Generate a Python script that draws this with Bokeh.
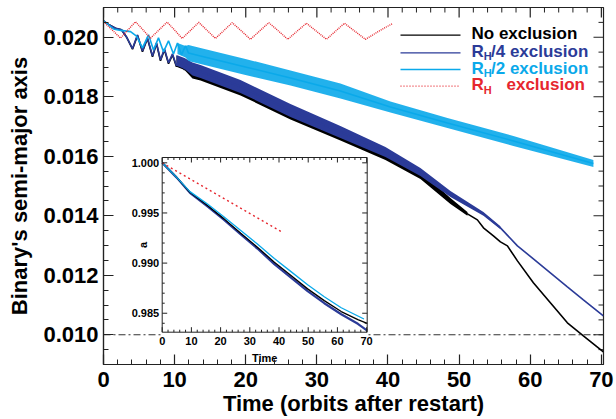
import numpy as np
from bokeh.plotting import figure
from bokeh.models import Range1d, SingleIntervalTicker, NumeralTickFormatter, Span
from bokeh.core.properties import value
from bokeh.embed import file_html
from bokeh.resources import INLINE

FONT = "Liberation Sans"

# ---------------- data ----------------
threshold = 0.010

# No exclusion (black)
noexcl_t = [0, 0.84, 1.69, 2.53, 3.23, 4.08, 4.78, 5.48, 6.18, 6.89, 7.45, 8.01, 8.57, 9.14, 9.70,
            10.26, 10.82, 11.39, 11.95, 12.51, 13.64, 19.26, 26.29, 33.31, 39.64, 44.56, 48.78,
            51.17, 52.57, 53.42, 54.82, 55.81, 56.79, 58.20, 60.44, 62.83, 65.22, 67.47, 70.28]
noexcl_a = [0.02055, 0.02041, 0.02030, 0.02025, 0.02001, 0.01960, 0.02006, 0.01951, 0.01996, 0.01934,
            0.01979, 0.01921, 0.01958, 0.01911, 0.01941, 0.01901, 0.01927, 0.01890, 0.01914,
            0.018834, 0.018767, 0.018263, 0.017457, 0.016734, 0.016045, 0.015373, 0.014499, 0.014063,
            0.013861, 0.013593, 0.013324, 0.013122, 0.012988, 0.012484, 0.011745, 0.011073, 0.010401,
            0.009964, 0.009427]
noexcl_band_t = [10.26, 11.39, 12.51, 13.64, 19.26, 26.29, 33.31, 39.64, 44.56, 48.78, 51.17]
noexcl_band_lo = [0.01901, 0.01890, 0.018616, 0.018549, 0.018045, 0.017239, 0.016532, 0.015877,
                  0.015239, 0.014398, 0.013996]
noexcl_band_hi = [0.01938, 0.01927, 0.019052, 0.018985, 0.018481, 0.017675, 0.016936, 0.016213,
                  0.015507, 0.014600, 0.014130]

# R_H/4 exclusion (navy)
rh4_t = [0, 0.84, 1.69, 2.53, 3.23, 4.08, 4.78, 5.48, 6.18, 6.89, 7.45, 8.01, 8.57, 9.14, 9.70,
         10.26, 10.82, 11.39, 11.95, 12.51, 13.64, 19.26, 26.29, 33.31, 39.64, 44.56, 48.78, 53.42,
         55.81, 58.20, 60.44, 62.83, 65.22, 67.47, 70.28]
rh4_a = [0.02055, 0.02041, 0.02030, 0.02025, 0.02001, 0.01962, 0.02008, 0.01954, 0.01998, 0.01937,
         0.01981, 0.01924, 0.01961, 0.01914, 0.01944, 0.01904, 0.01930, 0.01893, 0.01917,
         0.018935, 0.018851, 0.018347, 0.017540, 0.016818, 0.016146, 0.015474, 0.014735, 0.014063,
         0.013593, 0.012988, 0.012551, 0.012081, 0.011610, 0.011173, 0.010636]
rh4_band_t = [10.26, 11.39, 12.51, 13.64, 19.26, 26.29, 33.31, 39.64, 44.56, 48.78, 53.42, 55.81]
rh4_band_lo = [0.01904, 0.01893, 0.018717, 0.018633, 0.018129, 0.017322, 0.016616, 0.015978,
               0.015340, 0.014634, 0.013996, 0.013543]
rh4_band_hi = [0.01940, 0.01930, 0.019153, 0.019069, 0.018565, 0.017758, 0.017020, 0.016314,
               0.015608, 0.014836, 0.014130, 0.013643]

# R_H/2 exclusion (light blue)
rh2_t = [0, 1.41, 2.39, 3.80, 4.64, 5.48, 6.33, 7.03, 7.73, 8.43, 9.14, 9.84, 10.40, 10.96, 11.53,
         11.95, 13.64, 19.96, 26.29, 33.31, 40.34, 48.36, 57.63, 68.88]
rh2_a = [0.02055, 0.02028, 0.02023, 0.02019, 0.02004, 0.01964, 0.02008, 0.01957, 0.01998, 0.01951,
         0.01988, 0.01944, 0.01981, 0.01941, 0.01971, 0.019472, 0.019372, 0.019002, 0.018632,
         0.018196, 0.017658, 0.017120, 0.016515, 0.015759]
rh2_band_t = [10.40, 11.53, 11.95, 13.64, 19.96, 26.29, 33.31, 40.34, 48.36, 57.63, 68.88]
rh2_band_lo = [0.01944, 0.01932, 0.019203, 0.019103, 0.018733, 0.018380, 0.017944, 0.017473,
               0.016952, 0.016347, 0.015641]
rh2_band_hi = [0.01981, 0.01971, 0.019741, 0.019641, 0.019271, 0.018884, 0.018448, 0.017843,
               0.017288, 0.016683, 0.015877]

# R_H exclusion (red, dotted)
rh_t = [0, 1.2, 2.39, 3.45, 4.50, 5.55, 6.61, 7.78, 8.95, 10.0, 11.06, 12.23, 13.40, 14.57, 15.74,
        16.9, 18.09, 19.4, 20.66, 21.95, 23.24, 24.6, 25.91, 27.2, 28.53, 29.95, 31.35, 32.6,
        33.88, 35.35, 36.83, 38.7, 40.62]
rh_a = [0.02052, 0.02025, 0.01997, 0.02025, 0.02052, 0.02025, 0.01997, 0.02024, 0.02051, 0.02024,
        0.01996, 0.02023, 0.02050, 0.02023, 0.01996, 0.02022, 0.02049, 0.02021, 0.01993, 0.02021,
        0.02049, 0.02021, 0.01993, 0.02020, 0.02047, 0.02020, 0.01993, 0.02020, 0.02047, 0.02020,
        0.01993, 0.02020, 0.02046]

legend_labels = ["No exclusion", "/4 exclusion", "/2 exclusion", "exclusion"]

# inset (normalised a vs time)
in_t = [0, 4.9, 9.5, 15.5, 21.2, 26.9, 32.6, 38.4, 44.1, 49.8, 55.5, 61.3, 67.0, 70.2]
in_noexcl = [1.0, 0.99857, 0.99707, 0.99574, 0.99441, 0.99298, 0.99159, 0.99009, 0.98876, 0.98743,
             0.98626, 0.98517, 0.98437, 0.98400]
in_rh4 = [1.0, 0.99855, 0.99700, 0.99565, 0.99430, 0.99285, 0.99145, 0.98990, 0.98855, 0.98720,
          0.98600, 0.98490, 0.98395, 0.98327]
in_rh2_t = [0, 4.9, 9.5, 15.5, 21.2, 26.9, 32.6, 38.4, 44.1, 49.8, 55.5, 61.3, 69.1]
in_rh2 = [1.0, 0.99857, 0.99713, 0.99590, 0.99460, 0.99325, 0.99190, 0.99045, 0.98915, 0.98785,
          0.98665, 0.98555, 0.98443]
in_rh_t = [0, 20.5, 40.7]
in_rh = [1.0, 0.99655, 0.99315]
inset_x_ticks = [0, 10, 20, 30, 40, 50, 60, 70]
inset_y_ticks = [0.985, 0.990, 0.995, 1.000]
inset_y_labels = ["0.985", "0.990", "0.995", "1.000"]

# ---------------- layout ----------------
W, H = 616, 419
FL, FR, FT, FB = 103, 603, 7, 364
X0, X1 = 0.0, 70.3
Y0, Y1 = 0.009, 0.021

BLACK = "#000000"
NAVY = "#2b3b98"
CYAN = "#0aa9ea"
RED = "#e6262e"
FRAME = "#222222"

p = figure(width=W, height=H, output_backend="svg", toolbar_location=None,
           x_range=Range1d(X0, X1), y_range=Range1d(Y0, Y1),
           min_border_left=FL, min_border_right=W - FR, min_border_top=FT, min_border_bottom=H - FB,
           x_axis_label="Time (orbits after restart)", y_axis_label="Binary's semi-major axis")
p.grid.visible = False
p.background_fill_color = "white"
p.border_fill_color = "white"
p.outline_line_color = FRAME
p.outline_line_width = 1.2


def style_axis(ax):
    ax.major_tick_in = 10
    ax.major_tick_out = 0
    ax.minor_tick_in = 5
    ax.minor_tick_out = 0
    ax.major_tick_line_color = FRAME
    ax.minor_tick_line_color = FRAME
    ax.major_tick_line_width = 1.2
    ax.minor_tick_line_width = 1
    ax.axis_line_color = FRAME
    ax.axis_line_width = 1.2
    ax.major_label_text_font = FONT
    ax.major_label_text_font_size = "22px"
    ax.major_label_text_font_style = "bold"
    ax.major_label_text_color = "black"
    ax.axis_label_text_font = FONT
    ax.axis_label_text_font_size = "22px"
    ax.axis_label_text_font_style = "bold"
    ax.axis_label_text_color = "black"


xa = p.xaxis[0]
ya = p.yaxis[0]
xa.ticker = SingleIntervalTicker(interval=10, num_minor_ticks=5)
ya.ticker = SingleIntervalTicker(interval=0.002, num_minor_ticks=4)
ya.formatter = NumeralTickFormatter(format="0.000")
style_axis(xa)
style_axis(ya)
xa.major_label_standoff = 7
xa.axis_label_standoff = 1
ya.major_label_standoff = 5
ya.axis_label_standoff = 8

# mirrored inward ticks on top and right edges
px_per_x = (FR - FL) / (X1 - X0)
px_per_y = (FB - FT) / (Y1 - Y0)
top_major = list(np.arange(0, 70.01, 10))
top_minor = [v for v in np.arange(0, X1, 2.0) if v % 10 != 0]
right_major = list(np.arange(0.010, 0.0205, 0.002))
right_minor = [v for v in np.arange(0.0095, Y1, 0.0005)
               if min(abs(v - t) for t in right_major) > 1e-7]
for xs, ln in ((top_major, 10), (top_minor, 5)):
    n = len(xs)
    p.segment(x0=xs, y0=[Y1] * n, x1=xs, y1=[Y1 - ln / px_per_y] * n, line_color=FRAME,
              line_width=1.2 if ln == 10 else 1)
for ys, ln in ((right_major, 10), (right_minor, 5)):
    n = len(ys)
    p.segment(x0=[X1] * n, y0=ys, x1=[X1 - ln / px_per_x] * n, y1=ys, line_color=FRAME,
              line_width=1.2 if ln == 10 else 1)

# dash-dot threshold
p.add_layout(Span(location=threshold, dimension="width", line_color="#333333", line_width=1.2,
                  line_dash="7 3 2 3", level="underlay"))

# main curves
p.varea(x=noexcl_band_t, y1=noexcl_band_lo, y2=noexcl_band_hi, fill_color=BLACK)
p.line(noexcl_t, noexcl_a, line_color=BLACK, line_width=1.6)
p.varea(x=rh4_band_t, y1=rh4_band_lo, y2=rh4_band_hi, fill_color=NAVY)
p.line(rh4_t, rh4_a, line_color=NAVY, line_width=1.6)
p.varea(x=rh2_band_t, y1=rh2_band_lo, y2=rh2_band_hi, fill_color=CYAN, fill_alpha=0.9)
p.line(rh2_t, rh2_a, line_color=CYAN, line_width=1.6)
p.line(rh_t, rh_a, line_color=RED, line_width=1.4, line_dash="1 1")

# ---------------- inset (drawn in its own ranges) ----------------
IBL, IBR, IBT, IBB = 161.7, 366.7, 157.0, 331.7
IX0, IX1 = 0.0, 70.2
IY0, IY1 = 0.98311, 1.00053
isx = (IBR - IBL) / (IX1 - IX0)
isy = (IBB - IBT) / (IY1 - IY0)
p.extra_x_ranges = {"ix": Range1d(IX0 - (IBL - FL) / isx, IX1 + (FR - IBR) / isx)}
p.extra_y_ranges = {"iy": Range1d(IY0 - (FB - IBB) / isy, IY1 + (IBT - FT) / isy)}
IR = dict(x_range_name="ix", y_range_name="iy")

p.quad(left=[IX0], right=[IX1], bottom=[IY0 - 40 / isy], top=[IY1], fill_color="white",
       line_color=None, **IR)
p.line(in_t, in_rh4, line_color=NAVY, line_width=2.2, **IR)
p.line(in_t, in_noexcl, line_color=BLACK, line_width=1.3, **IR)
p.line(in_rh2_t, in_rh2, line_color=CYAN, line_width=1.3, **IR)
p.line(in_rh_t, in_rh, line_color=RED, line_width=1.3, line_dash="2 3", **IR)
p.quad(left=[IX0], right=[IX1], bottom=[IY0], top=[IY1], fill_color=None,
       line_color=FRAME, line_width=1, **IR)

# inset ticks
x_minor = [v for v in np.arange(IX0, IX1 + 1e-9, 2.0) if v % 10 != 0]
y_minor = [v for v in np.arange(0.984, IY1, 0.001) if min(abs(v - t) for t in inset_y_ticks) > 1e-6]
for xs, ln in ((inset_x_ticks, 5), (x_minor, 2.5)):
    n = len(xs)
    p.segment(x0=xs, y0=[IY0] * n, x1=xs, y1=[IY0 + ln / isy] * n, line_color=FRAME, line_width=1, **IR)
    p.segment(x0=xs, y0=[IY1] * n, x1=xs, y1=[IY1 - ln / isy] * n, line_color=FRAME, line_width=1, **IR)
for ys, ln in ((inset_y_ticks, 5), (y_minor, 2.5)):
    n = len(ys)
    p.segment(x0=[IX0] * n, y0=ys, x1=[IX0 + ln / isx] * n, y1=ys, line_color=FRAME, line_width=1, **IR)
    p.segment(x0=[IX1] * n, y0=ys, x1=[IX1 - ln / isx] * n, y1=ys, line_color=FRAME, line_width=1, **IR)

small = dict(text_font=value(FONT), text_font_style="bold", text_font_size="11px", text_color="black")
p.text(x=[IX0 - 3 / isx] * len(inset_y_ticks), y=inset_y_ticks, text=inset_y_labels,
       text_align="right", text_baseline="middle", **small, **IR)
p.text(x=inset_x_ticks, y=[IY0 - 5 / isy] * len(inset_x_ticks), text=[str(v) for v in inset_x_ticks],
       text_align="center", text_baseline="top", **small, **IR)
p.text(x=[(IX0 + IX1) / 2], y=[IY0 - 26 / isy], text=["Time"], text_align="center",
       text_baseline="middle", **small, **IR)
p.text(x=[IX0 - 19 / isx], y=[(IY0 + IY1) / 2], text=["a"], angle=np.pi / 2, text_align="center",
       text_baseline="middle", **small, **IR)


# ---------------- legend (top right) ----------------
def mx(px):
    return X0 + (px - FL) / (FR - FL) * (X1 - X0)


def my(py):
    return Y1 - (py - FT) / (FB - FT) * (Y1 - Y0)


leg = dict(text_font=value(FONT), text_font_style="bold", text_baseline="middle", text_align="left")
entries = [(BLACK, None, 34.7), (NAVY, None, 52.3), (CYAN, None, 69.0), (RED, "1 2", 85.7)]
for i, (col, dash, ly) in enumerate(entries):
    kw = dict(line_dash=dash) if dash else {}
    p.line([mx(400), mx(460)], [my(ly), my(ly)], line_color=col, line_width=1.3 if dash is None else 1.2, **kw)
    ty = ly - 1.4
    if i == 0:
        p.text(x=[mx(471)], y=[my(ty)], text=[legend_labels[0]], text_color=col, text_font_size="17px", **leg)
    else:
        p.text(x=[mx(471)], y=[my(ty)], text=["R"], text_color=col, text_font_size="17px", **leg)
        p.text(x=[mx(483.3)], y=[my(ty + 5)], text=["H"], text_color=col, text_font_size="11px", **leg)
        rx = 490.5 if i < 3 else 506
        p.text(x=[mx(rx)], y=[my(ty)], text=[legend_labels[i]], text_color=col, text_font_size="17px", **leg)

open("out.html", "w").write(file_html(p, INLINE))
